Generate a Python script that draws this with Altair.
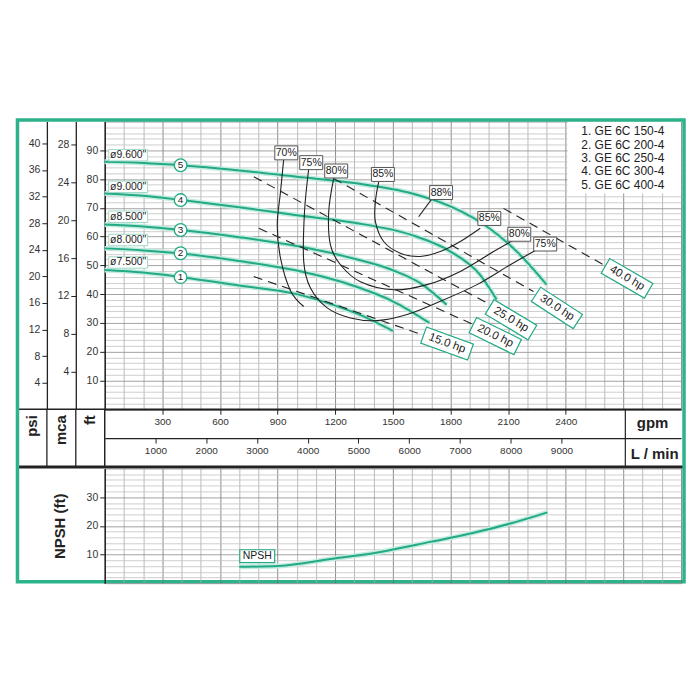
import altair as alt
import pandas as pd

# ---------------- constants ----------------
GPM_MAX = 3000
FT_MAX = 100
NPSH_MAX = 40
FT_PER_PSI = 2.31
FT_PER_M = 3.281
LPM_PER_GPM = 3.78541

TEAL = "#22a985"
HALO = "#c4ebdf"
FRAME = "#2db38b"
INK = "#222222"
FONT = "Liberation Sans"

# ---------------- head curves (gpm, ft) ----------------
curve_nums = ["1", "2", "3", "4", "5"]
curve_names = ['ø7.500"', 'ø8.000"', 'ø8.500"', 'ø9.000"', 'ø9.600"']
c1_q = [0, 200, 400, 700, 1000, 1200, 1350, 1500]
c1_h = [48.4, 47.5, 45.9, 43.0, 40.0, 36.0, 32.2, 27.2]
c2_q = [0, 200, 400, 700, 1000, 1300, 1500, 1690]
c2_h = [55.9, 55.2, 54.1, 51.5, 48.2, 42.8, 37.5, 30.0]
c3_q = [0, 200, 400, 700, 1000, 1300, 1500, 1650, 1780]
c3_h = [64.2, 63.5, 62.3, 59.8, 56.7, 52.3, 48.3, 43.5, 36.3]
c4_q = [0, 200, 400, 700, 1000, 1300, 1600, 1800, 1950, 2040]
c4_h = [75.0, 74.2, 72.7, 70.2, 67.4, 64.8, 60.5, 54.8, 47.0, 38.1]
c5_q = [0, 200, 400, 700, 1000, 1300, 1600, 1800, 2000, 2150, 2300]
c5_h = [86.0, 85.6, 84.8, 83.0, 80.8, 78.6, 75.0, 70.5, 63.0, 54.5, 43.3]

# curve number markers and diameter labels
num_q = [395, 395, 395, 395, 395]
num_h = [45.9, 54.2, 62.3, 72.7, 84.8]
dia_q = [122, 122, 122, 122, 122]
dia_h = [51.0, 58.8, 66.9, 77.3, 88.3]

# ---------------- iso-efficiency curves ----------------
e70_q = [932, 915, 898, 915, 967, 1036]
e70_h = [87.1, 75.5, 64.0, 52.5, 41.2, 35.7]
e75_q = [1062, 1040, 1036, 1071, 1158, 1279, 1418, 1574, 1747, 1938, 2111, 2232, 2290]
e75_h = [83.6, 68.6, 51.3, 42.1, 35.2, 31.7, 30.8, 32.9, 37.5, 43.3, 50.2, 54.8, 56.8]
e80_q = [1192, 1166, 1175, 1227, 1331, 1504, 1678, 1851, 2024, 2128]
e80_h = [80.2, 68.6, 57.1, 50.2, 44.3, 41.5, 43.3, 47.9, 54.8, 58.8]
e85_q = [1426, 1409, 1409, 1452, 1539, 1643, 1747, 1851, 1955]
e85_h = [79.0, 72.1, 65.2, 58.3, 54.2, 53.1, 54.8, 58.3, 62.9]
e88_q = [1704, 1634]
e88_h = [73.2, 66.9]

eff_lab_text = ["70%", "75%", "80%", "85%", "88%", "85%", "80%", "75%"]
eff_lab_q = [945, 1075, 1205, 1448, 1751, 2002, 2158, 2293]
eff_lab_h = [89.1, 85.7, 82.8, 81.6, 75.3, 66.3, 60.8, 57.4]

# ---------------- power lines ----------------
hp_names = ["15.0 hp", "20.0 hp", "25.0 hp", "30.0 hp", "40.0 hp"]
hp_q0 = [776, 802, 776, 1192, 2076]
hp_h0 = [46.1, 62.9, 80.8, 80.2, 69.8]
hp_q1 = [1652, 1920, 2007, 2232, 2596]
hp_h1 = [25.9, 29.4, 36.3, 40.9, 50.2]
hp_lab_q = [1782, 2033, 2115, 2354, 2719]
hp_lab_h = [22.8, 25.4, 31.1, 35.2, 45.5]
hp_lab_angle = [20, 26, 31, 33, 30]

# ---------------- legend ----------------
models = ["1. GE 6C 150-4", "2. GE 6C 200-4", "3. GE 6C 250-4",
          "4. GE 6C 300-4", "5. GE 6C 400-4"]
model_q = [2481, 2481, 2481, 2481, 2481]
model_h = [96.6, 92.0, 87.3, 82.7, 78.1]
legend_box_q = [2409, 3000]
legend_box_h = [75.0, 100.0]

# ---------------- NPSH ----------------
npsh_q = [700, 906, 1175, 1435, 1695, 1903, 2111, 2305]
npsh_v = [5.7, 6.0, 8.4, 10.9, 14.4, 17.3, 20.8, 24.7]
npsh_lab_q = [794]
npsh_lab_v = [9.4]

gpm_ticks = list(range(0, GPM_MAX + 1, 100))
ft_ticks = list(range(0, FT_MAX + 1, 2))
psi_ticks = list(range(4, 41, 4))
mca_ticks = list(range(4, 29, 4))
lpm_ticks = list(range(1000, 9001, 1000))
npsh_ticks = list(range(0, NPSH_MAX + 1, 2))
gpm_box_q = [2710]

# ---------------- build tables ----------------
def seq(qs, hs, name):
    return pd.DataFrame({"q": qs, "h": hs, "name": name, "i": list(range(len(qs)))})

heads = pd.concat([seq(q, h, n) for q, h, n in
                   zip([c1_q, c2_q, c3_q, c4_q, c5_q], [c1_h, c2_h, c3_h, c4_h, c5_h], curve_nums)])
effs = pd.concat([seq(e70_q, e70_h, "70"), seq(e75_q, e75_h, "75"), seq(e80_q, e80_h, "80"),
                  seq(e85_q, e85_h, "85"), seq(e88_q, e88_h, "88")])
hps = pd.concat([seq([a, b], [c, d], n) for a, b, c, d, n in
                 zip(hp_q0, hp_q1, hp_h0, hp_h1, hp_names)])
nums = pd.DataFrame({"q": num_q, "h": num_h, "t": curve_nums})
dias = pd.DataFrame({"q": dia_q, "h": dia_h, "t": curve_names})
efflab = pd.DataFrame({"q": eff_lab_q, "h": eff_lab_h, "t": eff_lab_text})
hplab = pd.DataFrame({"q": hp_lab_q, "h": hp_lab_h, "t": hp_names, "ang": hp_lab_angle})
legend_txt = pd.DataFrame({"q": model_q, "h": model_h, "t": models})
legend_bg = pd.DataFrame({"q": [legend_box_q[0]], "q2": [legend_box_q[1]],
                          "h": [legend_box_h[0]], "h2": [legend_box_h[1]]})
npsh_df = pd.DataFrame({"q": npsh_q, "h": npsh_v, "i": list(range(len(npsh_q)))})
npsh_lab = pd.DataFrame({"q": npsh_lab_q, "h": npsh_lab_v, "t": ["NPSH"]})
one = pd.DataFrame({"k": [0]})

# ---------------- scales / axes ----------------
major_x = "datum.value % 300 === 0"
lab_x = "datum.value % 300 === 0 && datum.value > 0 && datum.value < 2700"
gpm_axis = alt.Axis(
    values=gpm_ticks, format="d", grid=True,
    gridColor={"condition": {"test": major_x, "value": "#707070"}, "value": "#a9a9a9"},
    gridWidth=0.8,
    labelExpr="(" + lab_x + ") ? datum.label : ''",
    tickOpacity={"condition": {"test": lab_x, "value": 1}, "value": 0},
    tickSize=5, tickColor=INK, labelPadding=2, labelFontSize=10, labelColor="#333",
    domainColor=INK, domainWidth=1.5,
    title="gpm", titleX=549, titleY=13, titleAlign="center", titleBaseline="middle",
    titleFontSize=15, titleFontWeight="bold", titleColor=INK,
)
lab_y = "datum.value % 10 === 0 && datum.value > 0 && datum.value < 100"
ft_axis = alt.Axis(
    values=ft_ticks, grid=True,
    gridColor={"condition": {"test": "datum.value % 10 === 0", "value": "#8c8c8c"}, "value": "#c2c2c2"},
    gridWidth=0.8,
    labelExpr="(" + lab_y + ") ? datum.label : ''",
    tickOpacity={"condition": {"test": lab_y, "value": 1}, "value": 0},
    tickSize=5, tickColor=INK, labelPadding=2, labelFontSize=10.5, labelColor="#333",
    domainColor=INK, domainWidth=1.5,
    title="ft", titleAngle=270, titleX=-15, titleY=294, titleAlign="right",
    titleBaseline="middle", titleFontSize=15, titleFontWeight="bold", titleColor=INK,
)
xs = alt.Scale(domain=[0, GPM_MAX], nice=False, zero=False)
ys = alt.Scale(domain=[0, FT_MAX], nice=False)
X = alt.X("q:Q", scale=xs, axis=gpm_axis)
Y = alt.Y("h:Q", scale=ys, axis=ft_axis)

def box(w, h):
    r = h / w
    return "M-1,-{r}L1,-{r}L1,{r}L-1,{r}Z".format(r=round(r, 3))

# ---------------- top panel layers ----------------
bg = alt.Chart(legend_bg).mark_rect(fill="white").encode(
    x=X, x2="q2:Q", y=Y, y2="h2:Q")
halo = alt.Chart(heads).mark_line(color=HALO, strokeWidth=5, interpolate="monotone").encode(
    x=X, y=Y, detail="name:N", order="i:Q")
head = alt.Chart(heads).mark_line(color=TEAL, strokeWidth=2, interpolate="monotone").encode(
    x=X, y=Y, detail="name:N", order="i:Q")
eff = alt.Chart(effs).mark_line(color=INK, strokeWidth=1.1, interpolate="cardinal").encode(
    x=X, y=Y, detail="name:N", order="i:Q")
hp = alt.Chart(hps).mark_line(color=INK, strokeWidth=1.1, strokeDash=[9, 6]).encode(
    x=X, y=Y, detail="name:N", order="i:Q")
dia_box = alt.Chart(dias).mark_point(shape=box(39, 11.5), size=39 ** 2, filled=True, fill="white",
                                     stroke="#9fd9c8", strokeWidth=1, opacity=1).encode(x=X, y=Y)
dia_txt = alt.Chart(dias).mark_text(fontSize=10.5, font=FONT, color=INK, baseline="middle").encode(
    x=X, y=Y, text="t:N")
num_pt = alt.Chart(nums).mark_point(shape="circle", size=160, filled=True, fill="white",
                                    stroke=TEAL, strokeWidth=1.3, opacity=1).encode(x=X, y=Y)
num_txt = alt.Chart(nums).mark_text(fontSize=10, font=FONT, color=INK, baseline="middle").encode(
    x=X, y=Y, text="t:N")
eff_box = alt.Chart(efflab).mark_point(shape=box(23, 14), size=23 ** 2, filled=True, fill="white",
                                       stroke="#555", strokeWidth=1, opacity=1).encode(x=X, y=Y)
eff_txt = alt.Chart(efflab).mark_text(fontSize=10.5, font=FONT, color=INK, baseline="middle").encode(
    x=X, y=Y, text="t:N")
hp_box = alt.Chart(hplab).mark_point(shape=box(50, 17), size=50 ** 2, filled=True, fill="white",
                                     stroke=TEAL, strokeWidth=1.2, opacity=1).encode(
    x=X, y=Y, angle=alt.Angle("ang:Q", scale=None))
hp_txt = alt.Chart(hplab).mark_text(fontSize=11.5, font=FONT, color=INK, baseline="middle").encode(
    x=X, y=Y, text="t:N", angle=alt.Angle("ang:Q", scale=None))
leg_txt = alt.Chart(legend_txt).mark_text(fontSize=12, font=FONT, color=INK, align="left",
                                          baseline="middle").encode(x=X, y=Y, text="t:N")
gpm_sep = alt.Chart(pd.DataFrame({"q": gpm_box_q})).mark_rule(color=INK, strokeWidth=1.2).encode(
    x=X, y=alt.value(288.5), y2=alt.value(346.5))

# frame / band lines (layout decoration, pixel positions)
def prule(x1, x2, y1, y2, w, c=INK):
    return alt.Chart(one).mark_rule(color=c, strokeWidth=w).encode(
        x=alt.value(x1), x2=alt.value(x2), y=alt.value(y1), y2=alt.value(y2))

band = [
    prule(-87.5, 578, 288.5, 288.5, 1.5),
    prule(-87.5, 581, 346.5, 346.5, 3),
    prule(-58, -58, 288.5, 346.5, 1.3),
    prule(-29, -29, 288.5, 346.5, 1.3),
    prule(0, 0, 288.5, 346.5, 1.5),
]
frame = alt.Chart(one).mark_rect(fillOpacity=0, stroke=FRAME, strokeWidth=3.5).encode(
    x=alt.value(-87.5), x2=alt.value(581), y=alt.value(-1.5), y2=alt.value(461.5))

main = alt.layer(bg, halo, head, eff, hp, dia_box, dia_txt, num_pt, num_txt,
                 eff_box, eff_txt, hp_box, hp_txt, leg_txt, gpm_sep, *band, frame)

psi_layer = alt.Chart(pd.DataFrame({"p": [0.0]})).mark_point(opacity=0).encode(
    x=alt.value(0),
    y=alt.Y("p:Q", scale=alt.Scale(domain=[0, FT_MAX / FT_PER_PSI], nice=False),
            axis=alt.Axis(orient="left", offset=58, values=psi_ticks, grid=False, tickSize=5,
                          tickColor=INK, labelPadding=2, labelFontSize=10.5, labelColor="#333",
                          domainColor=INK, domainWidth=1.3,
                          title="psi", titleAngle=270, titleX=-15, titleY=294, titleAlign="right",
                          titleBaseline="middle", titleFontSize=15, titleFontWeight="bold",
                          titleColor=INK)))
mca_layer = alt.Chart(pd.DataFrame({"m": [0.0]})).mark_point(opacity=0).encode(
    x=alt.value(0),
    y=alt.Y("m:Q", scale=alt.Scale(domain=[0, FT_MAX / FT_PER_M], nice=False),
            axis=alt.Axis(orient="left", offset=29, values=mca_ticks, grid=False, tickSize=5,
                          tickColor=INK, labelPadding=2, labelFontSize=10.5, labelColor="#333",
                          domainColor=INK, domainWidth=1.3,
                          title="mca", titleAngle=270, titleX=-15, titleY=294, titleAlign="right",
                          titleBaseline="middle", titleFontSize=15, titleFontWeight="bold",
                          titleColor=INK)))
lpm_layer = alt.Chart(pd.DataFrame({"l": [0.0]})).mark_point(opacity=0).encode(
    y=alt.value(0),
    x=alt.X("l:Q", scale=alt.Scale(domain=[0, GPM_MAX * LPM_PER_GPM], nice=False, zero=False),
            axis=alt.Axis(orient="bottom", offset=29, values=lpm_ticks, format="d", grid=False,
                          tickSize=5, tickColor=INK, labelPadding=2, labelFontSize=10,
                          labelColor="#333", domainColor=INK, domainWidth=1.3,
                          title="L / min", titleX=551, titleY=15, titleAlign="center",
                          titleBaseline="middle", titleFontSize=15, titleFontWeight="bold",
                          titleColor=INK)))

top = alt.layer(main, psi_layer, mca_layer, lpm_layer).resolve_scale(
    x="independent", y="independent").properties(width=578, height=288.5)

# ---------------- NPSH panel ----------------
X2 = alt.X("q:Q", scale=xs, axis=alt.Axis(
    values=gpm_ticks, grid=True, labels=False, ticks=False, domain=False, title=None,
    gridColor={"condition": {"test": major_x, "value": "#707070"}, "value": "#a9a9a9"},
    gridWidth=0.8))
lab_n = "datum.value % 10 === 0 && datum.value > 0 && datum.value < 40"
Y2 = alt.Y("h:Q", scale=alt.Scale(domain=[0, NPSH_MAX], nice=False), axis=alt.Axis(
    values=npsh_ticks, grid=True,
    gridColor={"condition": {"test": "datum.value % 10 === 0", "value": "#8c8c8c"}, "value": "#c2c2c2"},
    gridWidth=0.8,
    labelExpr="(" + lab_n + ") ? datum.label : ''",
    tickOpacity={"condition": {"test": lab_n, "value": 1}, "value": 0},
    tickSize=5, tickColor=INK, labelPadding=2, labelFontSize=10.5, labelColor="#333",
    domainColor=INK, domainWidth=1.5,
    title="NPSH (ft)", titleAngle=270, titleX=-45, titleY=57.5, titleAlign="center",
    titleBaseline="middle", titleFontSize=15, titleFontWeight="bold", titleColor=INK))

n_halo = alt.Chart(npsh_df).mark_line(color=HALO, strokeWidth=5, interpolate="monotone").encode(
    x=X2, y=Y2, order="i:Q")
n_line = alt.Chart(npsh_df).mark_line(color=TEAL, strokeWidth=2, interpolate="monotone").encode(
    x=X2, y=Y2, order="i:Q")
n_box = alt.Chart(npsh_lab).mark_point(shape=box(35, 13), size=35 ** 2, filled=True, fill="white",
                                       stroke=TEAL, strokeWidth=1.2, opacity=1).encode(x=X2, y=Y2)
n_txt = alt.Chart(npsh_lab).mark_text(fontSize=10.5, font=FONT, color=INK, baseline="middle").encode(
    x=X2, y=Y2, text="t:N")

bottom = alt.layer(n_halo, n_line, n_box, n_txt).properties(width=578, height=115)

chart = alt.vconcat(top, bottom, spacing=59, bounds="flush").properties(
    padding={"left": 7, "top": 109, "right": 5, "bottom": 5}
).configure_view(stroke="transparent").configure_axis(
    labelFont=FONT, titleFont=FONT
)

chart.save("out.html", embed_options={"renderer": "svg", "actions": False})
